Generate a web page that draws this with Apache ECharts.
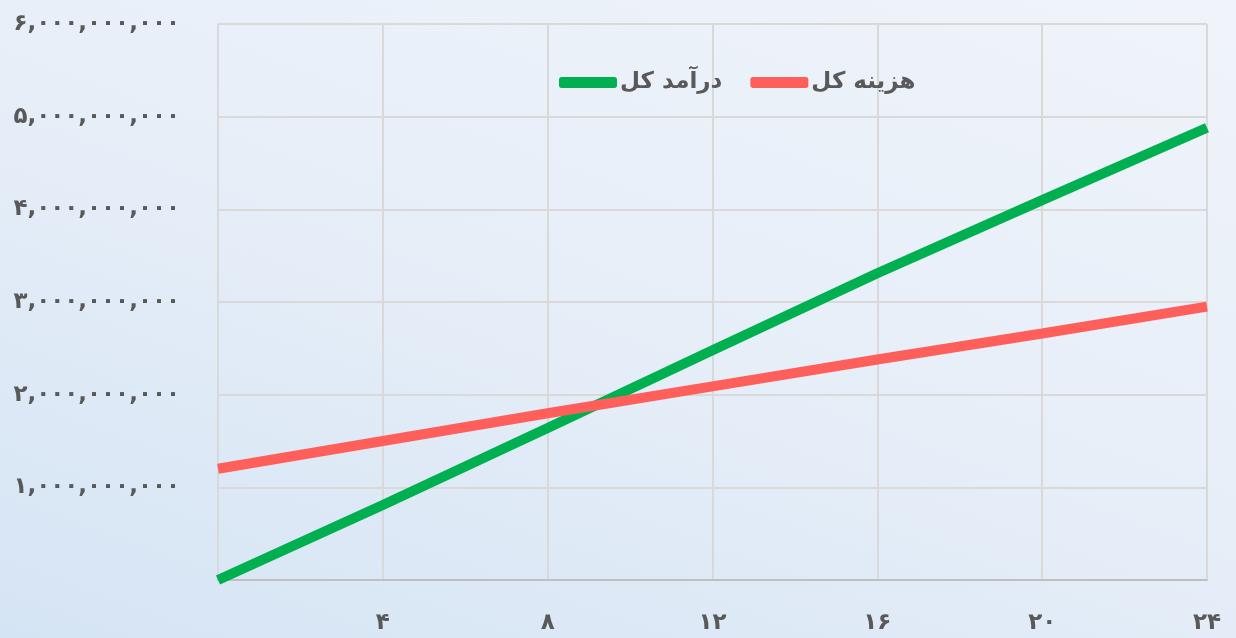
<!DOCTYPE html>
<html>
<head>
<meta charset="utf-8">
<script src="https://cdn.jsdelivr.net/npm/echarts@6/dist/echarts.min.js"></script>
<style>
  html, body { margin: 0; padding: 0; }
  #main { width: 1236px; height: 638px; background: linear-gradient(20deg, #d5e4f4 0%, #e6eef8 50%, #f0f4fa 100%); }
</style>
</head>
<body>
<div id="main"></div>
<script>
// ماه‌ها
var months = [0, 4, 8, 12, 16, 20, 24];
// درآمد کل
var revenue = [0, 810000000, 1640000000, 2480000000, 3310000000, 4100000000, 4880000000];
// هزینه کل
var cost = [1200000000, 1500000000, 1800000000, 2090000000, 2380000000, 2660000000, 2950000000];

var seriesNames = ['درآمد کل', 'هزینه کل'];

var faDigits = '۰۱۲۳۴۵۶۷۸۹';
function toFa(str) {
  return String(str).replace(/[0-9]/g, function (d) { return faDigits[+d]; });
}
function withCommas(n) {
  return String(n).replace(/\B(?=(\d{3})+(?!\d))/g, ',');
}

function pairs(xs, ys) {
  var out = [];
  for (var i = 0; i < xs.length; i++) out.push([xs[i], ys[i]]);
  return out;
}

var chart = echarts.init(document.getElementById('main'));

var labelFont = { color: '#595959', fontSize: 23, fontWeight: 'bold', fontFamily: 'DejaVu Sans' };

var option = {
  animation: false,
  grid: {
    left: 218,
    right: 29,
    top: 24,
    bottom: 58
  },
  legend: {
    top: 66,
    left: 554,
    itemWidth: 58,
    itemHeight: 11,
    itemGap: 28,
    icon: 'roundRect',
    textStyle: { color: '#595959', fontSize: 23, fontWeight: 'bold', fontFamily: 'DejaVu Sans', padding: [0, 0, 0, -2] },
    data: seriesNames
  },
  xAxis: {
    type: 'value',
    min: 0,
    max: 24,
    interval: 4,
    axisLine: { show: true, lineStyle: { color: '#bfbfbf', width: 2 } },
    axisTick: { show: false },
    splitLine: { show: true, lineStyle: { color: '#d9d9d9', width: 2 } },
    axisLabel: Object.assign({
      margin: 32,
      showMinLabel: false,
      formatter: function (v) { return toFa(v); }
    }, labelFont)
  },
  yAxis: {
    type: 'value',
    min: 0,
    max: 6000000000,
    interval: 1000000000,
    axisLine: { show: true, lineStyle: { color: '#d9d9d9', width: 2 } },
    axisTick: { show: false },
    splitLine: { show: true, lineStyle: { color: '#d9d9d9', width: 2 } },
    axisLabel: Object.assign({
      margin: 38,
      showMinLabel: false,
      padding: [0, 0, 8, 0],
      formatter: function (v) { return toFa(withCommas(v)); }
    }, labelFont)
  },
  series: [
    {
      name: seriesNames[0],
      type: 'line',
      data: pairs(months, revenue),
      showSymbol: false,
      color: '#00b050',
      lineStyle: { width: 10, color: '#00b050' }
    },
    {
      name: seriesNames[1],
      type: 'line',
      data: pairs(months, cost),
      showSymbol: false,
      color: '#ff5f5a',
      lineStyle: { width: 10, color: '#ff5f5a' }
    }
  ]
};

chart.setOption(option);
</script>
</body>
</html>
